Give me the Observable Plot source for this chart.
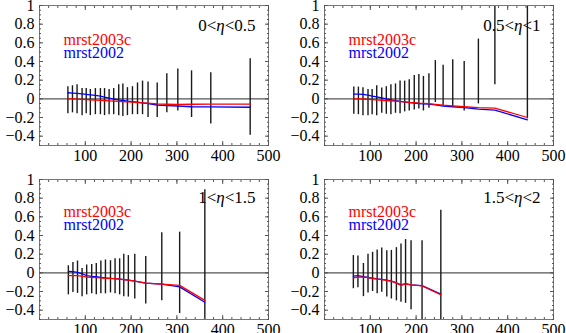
<!DOCTYPE html>
<html><head><meta charset="utf-8">
<script src="https://cdn.jsdelivr.net/npm/d3@7"></script>
<script src="https://cdn.jsdelivr.net/npm/@observablehq/plot@0.6"></script>
<style>
html,body{margin:0;padding:0;background:#fff;overflow:hidden;}
#wrap{position:relative;width:566px;height:333px;overflow:hidden;}
.panel{position:absolute;}
#wrap svg, #wrap svg text{font-family:"Liberation Serif","DejaVu Serif",serif !important;}
</style></head><body><div id="wrap"></div>
<script>
const etaLabels = ["0<η<0.5", "0.5<η<1", "1<η<1.5", "1.5<η<2"];
const seriesNames = ["mrst2003c", "mrst2002"];
const xTicks = [100, 200, 300, 400, 500];
const yTicks = [-0.4, -0.2, 0, 0.2, 0.4, 0.6, 0.8, 1];

// panel 1: 0<eta<0.5
const pt1 = [62,72,82,93,102,111,122,133,142,152,162,173,182,192,203,214,225,237,257,278,302,332,374,460];
const hi1 = [0.13,0.14,0.15,0.11,0.11,0.10,0.11,0.11,0.11,0.10,0.11,0.15,0.16,0.12,0.13,0.17,0.19,0.18,0.17,0.27,0.32,0.30,0.28,0.43];
const lo1 = [-0.16,-0.15,-0.16,-0.18,-0.16,-0.18,-0.17,-0.17,-0.18,-0.17,-0.17,-0.18,-0.19,-0.18,-0.17,-0.17,-0.17,-0.20,-0.20,-0.15,-0.13,-0.20,-0.27,-0.39];
const mrst2003c_1 = [0.0,0.0,-0.003,-0.006,-0.008,-0.01,-0.013,-0.016,-0.018,-0.021,-0.024,-0.027,-0.03,-0.033,-0.036,-0.04,-0.043,-0.047,-0.054,-0.058,-0.06,-0.058,-0.057,-0.057];
const mrst2002_1 = [0.065,0.062,0.058,0.053,0.048,0.043,0.038,0.03,0.018,0.008,-0.002,-0.012,-0.018,-0.024,-0.03,-0.036,-0.043,-0.052,-0.066,-0.072,-0.077,-0.085,-0.087,-0.09];

// panel 2: 0.5<eta<1
const pt2 = [64,74,84,95,104,114,125,135,145,155,165,175,185,196,206,216,228,242,259,280,305,336,372,443];
const hi2 = [0.126,0.126,0.12,0.10,0.10,0.14,0.115,0.13,0.15,0.16,0.19,0.19,0.205,0.25,0.26,0.24,0.27,0.41,0.36,0.42,0.40,0.64,1.3,1.3];
const lo2 = [-0.165,-0.17,-0.18,-0.18,-0.17,-0.18,-0.155,-0.165,-0.17,-0.155,-0.16,-0.14,-0.13,-0.12,-0.11,-0.13,-0.10,-0.04,-0.08,-0.09,-0.13,-0.054,0.15,-0.215];
const mrst2003c_2 = [0.0,0.0,-0.002,-0.005,-0.008,-0.012,-0.015,-0.018,-0.022,-0.025,-0.03,-0.033,-0.037,-0.04,-0.045,-0.048,-0.052,-0.06,-0.068,-0.075,-0.085,-0.095,-0.10,-0.20];
const mrst2002_2 = [0.05,0.05,0.048,0.04,0.03,0.02,0.01,0.0,-0.01,-0.02,-0.027,-0.033,-0.04,-0.045,-0.05,-0.053,-0.057,-0.065,-0.078,-0.085,-0.095,-0.11,-0.12,-0.225];

// panel 3: 1<eta<1.5
const pt3 = [63,73,83,93,103,114,124,134,144,155,165,175,184,194,208,232,267,306,361];
const hi3 = [0.076,0.11,0.127,0.047,0.084,0.09,0.10,0.127,0.138,0.13,0.15,0.15,0.20,0.185,0.20,0.175,0.43,0.436,0.89];
const lo3 = [-0.236,-0.21,-0.22,-0.255,-0.236,-0.225,-0.236,-0.225,-0.225,-0.215,-0.225,-0.236,-0.255,-0.26,-0.28,-0.335,-0.30,-0.436,-0.7];
const mrst2003c_3 = [-0.03,-0.03,-0.03,-0.035,-0.045,-0.048,-0.052,-0.055,-0.058,-0.06,-0.063,-0.067,-0.072,-0.078,-0.09,-0.11,-0.12,-0.135,-0.295];
const mrst2002_3 = [0.015,0.012,0.005,-0.01,-0.03,-0.038,-0.042,-0.048,-0.055,-0.06,-0.063,-0.067,-0.072,-0.078,-0.09,-0.11,-0.122,-0.15,-0.315];

// panel 4: 1.5<eta<2
const pt4 = [63,73,85,95,105,115,125,136,146,157,167,177,189,213,254];
const hi4 = [0.185,0.18,0.10,0.20,0.22,0.245,0.265,0.236,0.24,0.27,0.31,0.356,0.345,0.345,0.67];
const lo4 = [-0.17,-0.16,-0.255,-0.215,-0.20,-0.225,-0.207,-0.26,-0.28,-0.30,-0.316,-0.327,-0.396,-0.7,-0.7];
const mrst2003c_4 = [-0.055,-0.045,-0.047,-0.052,-0.06,-0.068,-0.072,-0.08,-0.09,-0.11,-0.135,-0.118,-0.13,-0.14,-0.235];
const mrst2002_4 = [-0.035,-0.03,-0.042,-0.05,-0.058,-0.065,-0.07,-0.078,-0.088,-0.108,-0.13,-0.115,-0.128,-0.138,-0.228];

const xMinor = d3.range(0, 501, 20);
const yMinor = d3.range(-0.5, 1.001, 0.05).map(v => Math.round(v * 100) / 100);
const fmt = d3.format("");
const FONT = "Liberation Serif";

function makePanel(eta, pts, hi, lo, red, blue, left, top, h, mt, mb, etaDy, legDy) {
  const bars = pts.map((x, j) => ({x, hi: hi[j], lo: lo[j]}));
  const redData = pts.map((x, j) => ({x, y: red[j]}));
  const blueData = pts.map((x, j) => ({x, y: blue[j]}));
  const tickStroke = "#555";
  const chart = Plot.plot({
    width: 283, height: h,
    marginLeft: 39, marginRight: 15, marginTop: mt, marginBottom: mb,
    style: {fontFamily: FONT, fontSize: "16px", background: "transparent", color: "#000"},
    x: {domain: [0, 500], label: null},
    y: {domain: [-0.5, 1], label: null},
    marks: [
      Plot.ruleY([0], {stroke: "#555", strokeWidth: 1.4}),
      Plot.ruleX(bars, {x: "x", y1: "lo", y2: "hi", stroke: "#1a1a1a", strokeWidth: 1.4, clip: true}),
      Plot.line(blueData, {x: "x", y: "y", stroke: "#0000ff", strokeWidth: 1.3, clip: true}),
      Plot.line(redData, {x: "x", y: "y", stroke: "#ff0000", strokeWidth: 1.3, clip: true}),
      Plot.frame({stroke: "#777", strokeWidth: 1}),
      Plot.axisX(xTicks, {anchor: "bottom", tickSize: 0, tickPadding: 4, tickFormat: fmt, fontSize: 16, fontFamily: FONT}),
      Plot.axisY(yTicks, {anchor: "left", tickSize: 0, tickPadding: 5, tickFormat: fmt, fontSize: 16, fontFamily: FONT}),
      Plot.axisX(xMinor, {anchor: "bottom", tickSize: -2, text: null, stroke: tickStroke}),
      Plot.axisX(xTicks, {anchor: "bottom", tickSize: -4, text: null, stroke: tickStroke}),
      Plot.axisX(xMinor, {anchor: "top", tickSize: -2, text: null, stroke: tickStroke}),
      Plot.axisX(xTicks, {anchor: "top", tickSize: -4, text: null, stroke: tickStroke}),
      Plot.axisY(yMinor, {anchor: "left", tickSize: -2, text: null, stroke: tickStroke}),
      Plot.axisY(yTicks, {anchor: "left", tickSize: -4, text: null, stroke: tickStroke}),
      Plot.axisY(yMinor, {anchor: "right", tickSize: -2, text: null, stroke: tickStroke}),
      Plot.axisY(yTicks, {anchor: "right", tickSize: -4, text: null, stroke: tickStroke}),
      Plot.text([eta], {frameAnchor: "top-right", dx: -13, dy: etaDy, textAnchor: "end", lineAnchor: "middle", fontSize: 17, fontFamily: FONT, fill: "#000"}),
      Plot.text([seriesNames[0]], {frameAnchor: "top-left", dx: 24, dy: legDy, textAnchor: "start", lineAnchor: "middle", fontSize: 16, fontFamily: FONT, fill: "#ff0000"}),
      Plot.text([seriesNames[1]], {frameAnchor: "top-left", dx: 24, dy: legDy + 13, textAnchor: "start", lineAnchor: "middle", fontSize: 16, fontFamily: FONT, fill: "#0000ff"})
    ]
  });
  // italicize eta
  chart.querySelectorAll("text").forEach(t => {
    if (t.textContent.includes("η") && t.children.length === 0) {
      const s = t.textContent;
      t.textContent = "";
      s.split(/(η)/).forEach(part => {
        if (!part) return;
        const ts = document.createElementNS("http://www.w3.org/2000/svg", "tspan");
        ts.textContent = part;
        if (part === "η") ts.setAttribute("font-style", "italic");
        t.appendChild(ts);
      });
    }
  });
  chart.classList.add("panel");
  chart.style.left = left + "px";
  chart.style.top = top + "px";
  document.getElementById("wrap").appendChild(chart);
}

makePanel(etaLabels[0], pt1, hi1, lo1, mrst2003c_1, mrst2002_1, 0, 0, 166, 5, 21, 20, 34);
makePanel(etaLabels[1], pt2, hi2, lo2, mrst2003c_2, mrst2002_2, 285, 0, 166, 5, 21, 20, 34);
makePanel(etaLabels[2], pt3, hi3, lo3, mrst2003c_3, mrst2002_3, 0, 166, 167, 13, 14, 18, 32);
makePanel(etaLabels[3], pt4, hi4, lo4, mrst2003c_4, mrst2002_4, 285, 166, 167, 13, 14, 18, 32);
</script></body></html>
